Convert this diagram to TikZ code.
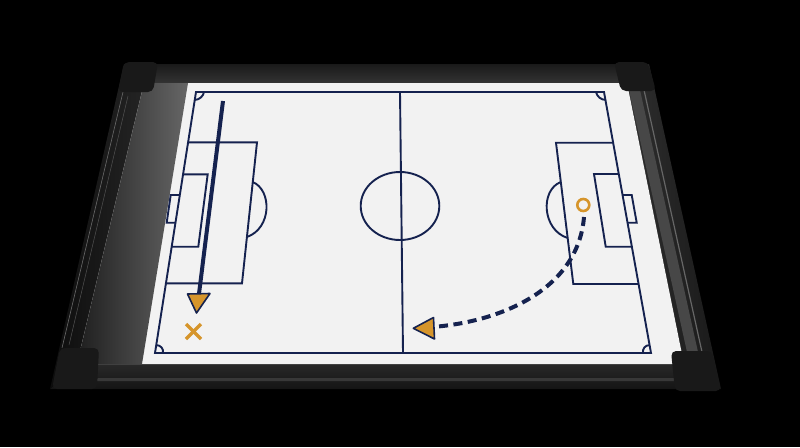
\documentclass[tikz,border=0pt]{standalone}
\usetikzlibrary{calc}
\definecolor{navy}{HTML}{15224F}
\definecolor{orng}{HTML}{D6952B}
\definecolor{board}{HTML}{F2F2F2}
\begin{document}
\begin{tikzpicture}[x=1pt,y=-1pt,
  pline/.style={draw=navy,line width=1.9pt,line join=miter},
  mark1/.style={draw=orng,line width=3.4pt},
  head/.style={fill=orng,draw=navy,line width=1.6pt,line join=round},
  corner/.style={fill=black!90,rounded corners=5pt}]
\fill[black] (0,0) rectangle (800,447);
\useasboundingbox (0,0) rectangle (800,447);
% ---------- frame rails ----------
\shade[top color=black!90,bottom color=black!80] (124,64) -- (649,64) -- (627,83) -- (144,83) -- cycle;
\shade[top color=black!84,bottom color=black!92] (77,364) -- (684,364) -- (721,389) -- (50,389) -- cycle;
\fill[black!78] (80,378) -- (690,378) -- (692,381) -- (78,381) -- cycle;
\shade[left color=black!95,right color=black!86] (124,64) -- (144,83) -- (77,364) -- (50,389) -- cycle;
\shade[left color=black!82,right color=black!90] (649,64) -- (627,83) -- (684,364) -- (721,389) -- cycle;
\fill[black!72] (629,90) -- (640,90) -- (698,352) -- (687,352) -- cycle;
\draw[black!60,line width=1.2pt] (644,90) -- (702,352);
\draw[black!58,line width=0.6pt] (123,92) -- (62,348);
\draw[black!68,line width=0.5pt] (128,96) -- (69,345);
% ---------- board surface ----------
\fill[board] (144,83) -- (627,83) -- (684,364) -- (77,364) -- cycle;
\shade[left color=black!88,right color=black!60] (144,83) -- (188,83) -- (142,364) -- (77,364) -- cycle;
% ---------- corner pieces ----------
\fill[corner] (124,62) -- (158,62) -- (153,92) -- (118,92) -- cycle;
\fill[corner] (614,62) -- (648,62) -- (656,91) -- (621,91) -- cycle;
\fill[corner] (60,348) -- (99,348) -- (97,389) -- (52,389) -- cycle;
\fill[corner] (671,351) -- (712,351) -- (721,391) -- (675,391) -- cycle;
% ---------- pitch ----------
\coordinate (TL) at (196,92);
\coordinate (TR) at (604,92);
\coordinate (BR) at (651,353);
\coordinate (BL) at (155,353);
\coordinate (HT) at (400,92);
\coordinate (HB) at (403,353);
\draw[pline] (TL) -- (TR) -- (BR) -- (BL) -- cycle;
\draw[pline] (HT) -- (HB);
\draw[pline] (400,206) ellipse [x radius=39.3, y radius=34];
% left penalty area, goal area, goal, arc
\draw[pline] (188.1,142.3) -- (257,142.3) -- (242,283.3) -- (166,283.3);
\draw[pline] (183.1,174.3) -- (207.7,174.3) -- (198.3,246.7) -- (171.7,246.7);
\draw[pline] (179.8,195) -- (170.7,195) -- (166.7,222.7) -- (175.5,222.7);
\draw[pline] (252.7,182) .. controls (272,190) and (272,228) .. (247,237);
% right penalty area, goal area, goal, arc
\draw[pline] (613.1,142.7) -- (556,142.7) -- (573.3,284) -- (638.6,284);
\draw[pline] (618.8,174) -- (594,174) -- (605.7,246.7) -- (631.9,246.7);
\draw[pline] (622.5,195) -- (631.7,195) -- (636.7,222.7) -- (627.5,222.7);
\draw[pline] (560.8,182) .. controls (540,190) and (542,230) .. (567.7,238);
% corner arcs
\draw[pline] (204,92) .. controls (203.3,96.35) and (199.16,99.9) .. (194.76,99.9);
\draw[pline] (596,92) .. controls (596.8,96.3) and (601,99.9) .. (605.4,99.9);
\draw[pline] (163,353) .. controls (163.7,348.65) and (160.64,345.1) .. (156.24,345.1);
\draw[pline] (643,353) .. controls (642.2,348.7) and (645.2,345.1) .. (649.6,345.1);
% ---------- annotations ----------
% solid run
\coordinate (r1s) at (223,101);
\coordinate (r1b) at (198.9,294.5);
\coordinate (r1t) at (196.5,313);
\draw[navy,line width=4pt] (r1s) -- (r1b);
\fill[head] (r1t) -- (187.5,294) -- (210,293.5) -- cycle;
% target cross
\coordinate (xc) at (193.5,331.5);
\draw[mark1] ($(xc)+(-7.5,-7.5)$) -- ($(xc)+(7.5,7.5)$);
\draw[mark1] ($(xc)+(-7.5,7.5)$) -- ($(xc)+(7.5,-7.5)$);
% ball / player circle
\node[circle,draw=orng,line width=2.6pt,minimum size=12pt,inner sep=0pt] (ball) at (583.3,205) {};
% dashed run
\coordinate (d1s) at (584,217);
\coordinate (d1b) at (432,327);
\coordinate (d1t) at (413.3,328.3);
\draw[navy,line width=4pt,dash pattern=on 9pt off 5.5pt] (d1s) .. controls (578,290) and (500,322) .. (d1b);
\fill[head] (d1t) -- (434.5,339) -- (433.5,317.5) -- cycle;
\end{tikzpicture}
\end{document}
